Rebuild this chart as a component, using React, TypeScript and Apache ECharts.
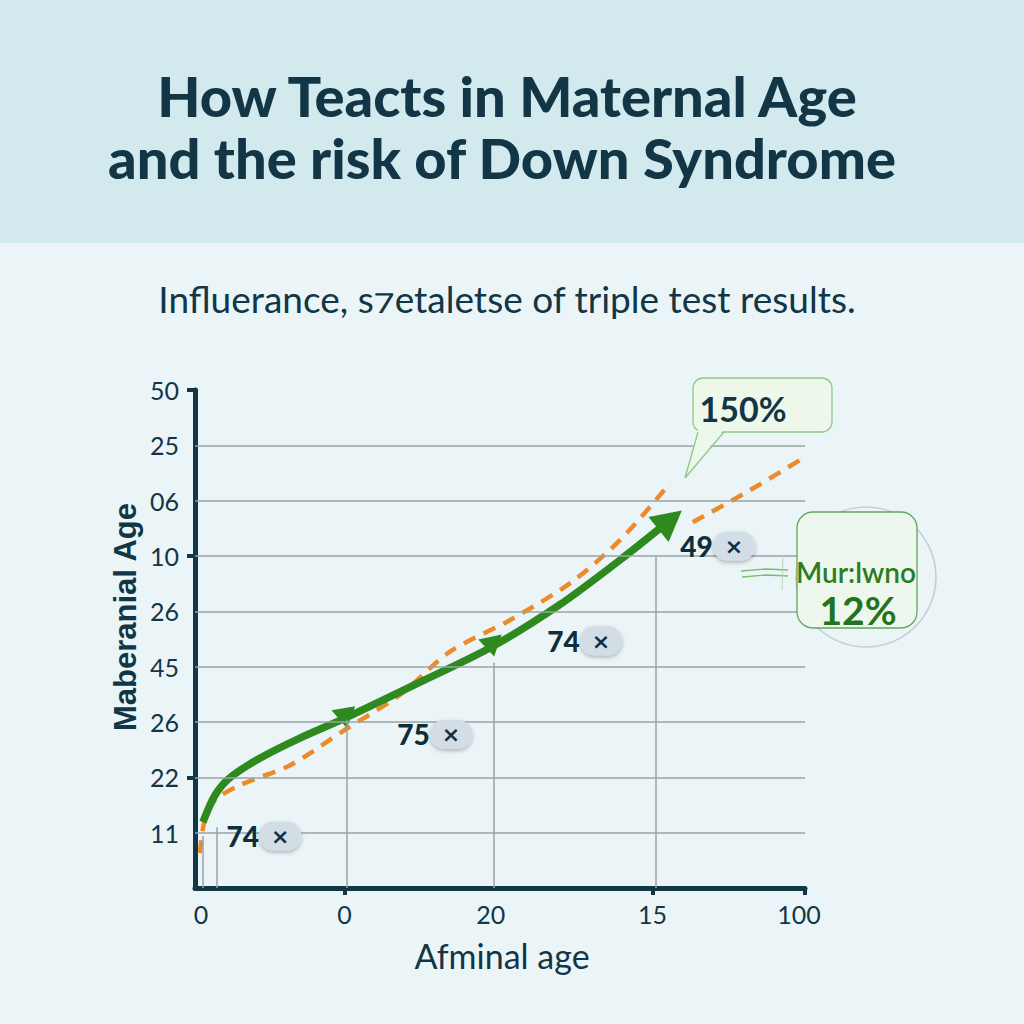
import React, { useEffect, useRef } from "react";
import * as echarts from "echarts";

// ---- data ----
const yTickLabels = ["", "11", "22", "26", "45", "26", "10", "06", "25", "50"]; // index = y value
const gridLineValues = [1, 2, 3, 4, 5, 6, 7, 8];
const yTickMarks = [2, 6, 9];
const xLabelValues = [1, 24.5, 48.5, 75, 99];
const xTickLabels = ["0", "0", "20", "15", "100"];
const xTickMarks = [24.5, 75, 100];

const greenLine: number[][] = [
  [1.3, 1.19], [3.3, 1.68], [5.7, 1.99], [10.7, 2.35], [17.2, 2.71], [24.6, 3.07],
  [36.9, 3.72], [48.7, 4.36], [59.8, 5.12], [69.7, 5.93], [77.9, 6.65],
];
const orangeLineA: number[][] = [
  [0.8, 0.63], [1.6, 1.23], [3.3, 1.59], [7.4, 1.86], [15.6, 2.22], [24.6, 2.86],
  [33.6, 3.49], [41.8, 4.27], [51.6, 4.84], [61.5, 5.51], [69.7, 6.29], [77.9, 7.32],
];
const orangeLineB: number[][] = [
  [81.6, 6.61], [91, 7.19], [99.7, 7.77],
];
const dropLines: number[][] = [
  [1.3, 0.94], [3.6, 1.1], [24.8, 3.04], [48.9, 4.07], [75.6, 5.98],
];
const badgeNumbers = ["74", "75", "74", "49"];
const badgePositions: number[][] = [
  [11.3, 0.94], [39.3, 2.78], [63.9, 4.47], [85.7, 6.18],
];

const TITLE_1 = "How Teacts in Maternal Age";
const TITLE_2 = "and the risk of Down Syndrome";
const SUBTITLE = "Influerance, s\u204Aetaletse of triple test results.";
const X_NAME = "Afminal age";
const Y_NAME = "Maberanial Age";
const CALLOUT_1 = "150%";
const CALLOUT_2A = "Mur:lwno";
const CALLOUT_2B = "12%";

const NAVY = "#123646";
const GREEN = "#2e8a1f";
const ORANGE = "#ec8a2c";
const BG = "#ebf5f8";

export default function App() {
  const ref = useRef<HTMLDivElement>(null);

  useEffect(() => {
    document.body.style.margin = "0";
    if (!ref.current) return;
    const chart = echarts.init(ref.current, undefined, { renderer: "svg" });

    const greenData = greenLine.map((p, i) => {
      if (i === 5) return { value: p, symbol: "triangle", symbolSize: [24, 20], symbolRotate: 190 };
      if (i === 7) return { value: p, symbol: "triangle", symbolSize: [24, 20], symbolRotate: 192 };
      if (i === greenLine.length - 1)
        return { value: p, symbol: "triangle", symbolSize: [32, 30], symbolRotate: -51 };
      return { value: p, symbol: "none" };
    });

    const option: any = {
      animation: false,
      backgroundColor: BG,
      grid: { left: 195, right: 219, top: 390, bottom: 136 },
      xAxis: {
        type: "value",
        min: 0,
        max: 100,
        axisLine: { show: true, lineStyle: { color: NAVY, width: 5, cap: "round" } },
        axisTick: {
          show: true,
          customValues: xTickMarks,
          length: 7,
          lineStyle: { color: NAVY, width: 4 },
        },
        axisLabel: {
          customValues: xLabelValues,
          formatter: (v: number) => {
            const i = xLabelValues.indexOf(v);
            return i >= 0 ? xTickLabels[i] : "";
          },
          fontSize: 25,
          fontFamily: "Lato",
          color: NAVY,
          margin: 13,
        },
        splitLine: { show: false },
      },
      yAxis: {
        type: "value",
        min: 0,
        max: 9,
        interval: 1,
        axisLine: { show: true, lineStyle: { color: NAVY, width: 5, cap: "round" } },
        axisTick: {
          show: true,
          customValues: yTickMarks,
          length: 8,
          lineStyle: { color: NAVY, width: 4 },
        },
        axisLabel: {
          formatter: (v: number) => yTickLabels[Math.round(v)] ?? "",
          fontSize: 25,
          fontFamily: "Lato",
          color: NAVY,
          margin: 16,
        },
        splitLine: { show: false },
      },
      graphic: [
        { type: "rect", shape: { x: 0, y: 0, width: 1024, height: 243 }, style: { fill: "#d2e9ee" }, z: -10 },
        {
          type: "text", x: 507, y: 95,
          style: { text: TITLE_1, fontSize: 56, fontWeight: 900, fontFamily: "Lato", fill: NAVY, align: "center", verticalAlign: "middle" },
        },
        {
          type: "text", x: 502, y: 157,
          style: { text: TITLE_2, fontSize: 56, fontWeight: 900, fontFamily: "Lato", fill: NAVY, align: "center", verticalAlign: "middle" },
        },
        {
          type: "text", x: 507, y: 298,
          style: { text: SUBTITLE, fontSize: 37, fontFamily: "Lato", fill: NAVY, align: "center", verticalAlign: "middle" },
        },
        {
          type: "text", x: 125, y: 617, rotation: Math.PI / 2,
          style: { text: Y_NAME, fontSize: 31, fontWeight: "bold", fontFamily: "Liberation Sans", fill: NAVY, align: "center", verticalAlign: "middle" },
        },
        {
          type: "text", x: 502, y: 955,
          style: { text: X_NAME, fontSize: 34, fontFamily: "Lato", fill: NAVY, align: "center", verticalAlign: "middle" },
        },
        // callout 1
        {
          type: "rect", shape: { x: 693, y: 378, width: 139, height: 54, r: 10 },
          style: { fill: "#eef8ea", stroke: "#8ec887", lineWidth: 1.3 }, z: 20,
        },
        {
          type: "polygon", shape: { points: [[698, 429], [685, 478], [724, 429]] },
          style: { fill: "#eef8ea" }, z: 21,
        },
        {
          type: "polyline", shape: { points: [[698, 432], [685, 478], [724, 432]] },
          style: { stroke: "#8ec887", lineWidth: 1.3, fill: null }, z: 21,
        },
        {
          type: "text", x: 743, y: 408, z: 22,
          style: { text: CALLOUT_1, fontSize: 34, fontWeight: "bold", fontFamily: "Lato", fill: NAVY, align: "center", verticalAlign: "middle" },
        },
        // callout 2
        {
          type: "circle", shape: { cx: 866, cy: 577, r: 70 },
          style: { fill: "none", stroke: "#c3cfd2", lineWidth: 1.6 }, z: 20,
        },
        {
          type: "rect", shape: { x: 797, y: 512, width: 120, height: 116, r: 16 },
          style: { fill: "#eef7ee", stroke: "#5fa85a", lineWidth: 1.3 }, z: 21,
        },
        {
          type: "polyline", shape: { points: [[741, 571], [765, 569], [788, 570]] },
          style: { stroke: "#7bbb72", lineWidth: 1.3, fill: null }, z: 21,
        },
        {
          type: "polyline", shape: { points: [[742, 577], [766, 575], [788, 576]] },
          style: { stroke: "#7bbb72", lineWidth: 1.3, fill: null }, z: 21,
        },
        {
          type: "line", shape: { x1: 783, y1: 558, x2: 782, y2: 590 },
          style: { stroke: "#b9d6b5", lineWidth: 1 }, z: 21,
        },
        {
          type: "text", x: 856, y: 572, z: 22,
          style: { text: CALLOUT_2A, fontSize: 28, fontFamily: "Lato", fontWeight: 600, fill: "#2a7d20", align: "center", verticalAlign: "middle" },
        },
        {
          type: "text", x: 858, y: 610, z: 22,
          style: { text: CALLOUT_2B, fontSize: 39, fontFamily: "Lato", fontWeight: "bold", fill: "#23731a", align: "center", verticalAlign: "middle" },
        },
      ],
      series: [
        {
          type: "line",
          data: [],
          z: 1,
          silent: true,
          markLine: {
            silent: true,
            symbol: "none",
            animation: false,
            label: { show: false },
            lineStyle: { color: "#9aa2a6", width: 1.5, type: "solid" },
            data: [
              ...gridLineValues.map((v) => ({ yAxis: v })),
              ...dropLines.map(([x, y]) => [{ coord: [x, 0] }, { coord: [x, y] }]),
            ],
          },
        },
        {
          type: "line",
          data: orangeLineA,
          smooth: 0.3,
          symbol: "none",
          z: 3,
          lineStyle: { color: ORANGE, width: 4.5, type: [13, 9] },
        },
        {
          type: "line",
          data: orangeLineB,
          smooth: 0.3,
          symbol: "none",
          z: 3,
          lineStyle: { color: ORANGE, width: 4.5, type: [13, 9] },
        },
        {
          type: "line",
          data: greenData,
          smooth: 0.3,
          z: 4,
          showSymbol: true,
          itemStyle: { color: GREEN },
          lineStyle: { color: GREEN, width: 7.5 },
        },
        {
          type: "scatter",
          z: 5,
          symbol: "circle",
          symbolSize: 0.5,
          itemStyle: { color: BG, opacity: 1 },
          data: badgePositions.map((p, i) => ({ value: p, num: badgeNumbers[i] })),
          label: {
            show: true,
            position: "inside",
            opacity: 1,
            color: "#0f2e3c",
            formatter: (params: any) => `{n|${params.data.num}}{p|×}`,
            rich: {
              n: { fontSize: 28, fontWeight: 900, fontFamily: "Lato", color: "#0f2e3c", opacity: 1 },
              p: {
                fontSize: 22, fontWeight: "bold", fontFamily: "DejaVu Sans", color: "#13303f",
                backgroundColor: "#d3dde6", borderRadius: 15, padding: [4, 12, 3, 12],
                shadowColor: "rgba(0,0,0,0.28)", shadowBlur: 4, shadowOffsetY: 2,
              },
            },
          },
        },
      ],
    };

    chart.setOption(option);
    return () => chart.dispose();
  }, []);

  return <div ref={ref} style={{ width: 1024, height: 1024 }} />;
}
